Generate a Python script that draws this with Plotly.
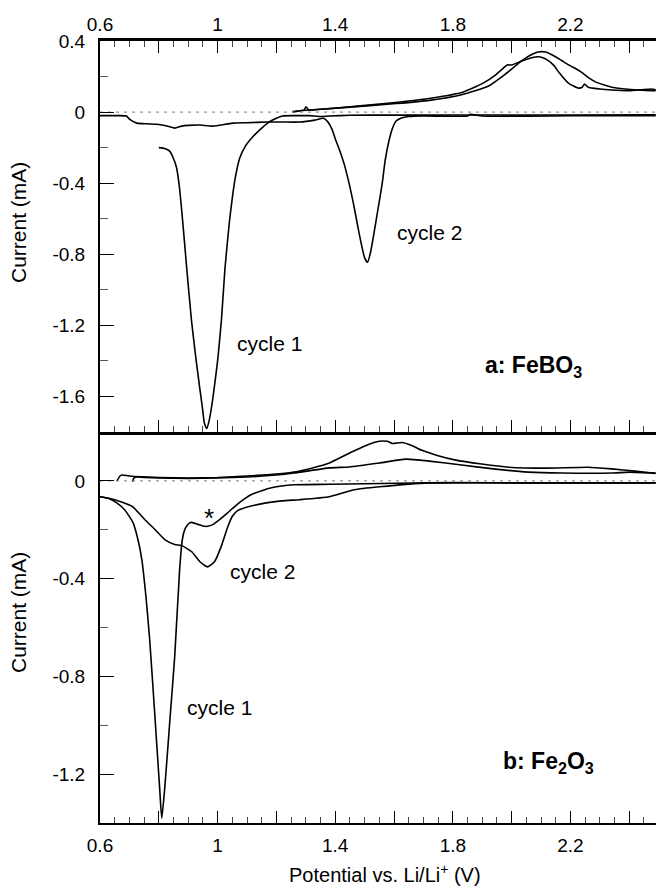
import plotly.graph_objects as go

# ---------------- data ----------------
# Panel a: FeBO3
feb_c1_dis_v = [2.49, 2.2, 1.9, 1.7, 1.58, 1.45, 1.38, 1.35, 1.31, 1.26, 1.22, 1.2, 1.176, 1.15, 1.119,
                1.095, 1.075, 1.06, 1.051, 1.04, 1.025, 1.013, 1.0, 0.983, 0.972, 0.963, 0.955, 0.948,
                0.939, 0.925, 0.911, 0.895, 0.881, 0.87, 0.86, 0.847, 0.837, 0.82, 0.80]
feb_c1_dis_i = [-0.015, -0.016, -0.016, -0.017, -0.017, -0.018, -0.022, -0.025, -0.02, -0.02, -0.022,
                -0.035, -0.055, -0.09, -0.14, -0.19, -0.26, -0.37, -0.47, -0.62, -0.88, -1.17, -1.40,
                -1.62, -1.73, -1.78, -1.75, -1.66, -1.55, -1.37, -1.17, -0.88, -0.61, -0.42, -0.31,
                -0.25, -0.22, -0.205, -0.20]

feb_c2_dis_v = [2.49, 2.2, 1.9, 1.86, 1.85, 1.7, 1.65, 1.625, 1.607, 1.595, 1.583, 1.57, 1.56, 1.545,
                1.532, 1.52, 1.51, 1.5, 1.481, 1.465, 1.447, 1.43, 1.414, 1.40, 1.39, 1.375, 1.36, 1.33,
                1.28, 1.22, 1.166, 1.1, 1.051, 0.983, 0.939, 0.9, 0.878, 0.854, 0.82, 0.793, 0.76,
                0.725, 0.70, 0.69, 0.65, 0.60]
feb_c2_dis_i = [-0.02, -0.021, -0.022, -0.013, -0.022, -0.022, -0.025, -0.033, -0.05, -0.09, -0.16,
                -0.27, -0.40, -0.55, -0.68, -0.79, -0.845, -0.82, -0.68, -0.54, -0.40, -0.29, -0.21,
                -0.15, -0.10, -0.055, -0.035, -0.045, -0.056, -0.056, -0.056, -0.06, -0.062, -0.079,
                -0.073, -0.075, -0.079, -0.09, -0.075, -0.068, -0.066, -0.062, -0.04, -0.022, -0.02,
                -0.02]

feb_c1_ch_v = [1.255, 1.28, 1.295, 1.30, 1.31, 1.35, 1.45, 1.607, 1.72, 1.83, 1.92, 1.98, 2.035, 2.07,
               2.09, 2.115, 2.14, 2.17, 2.2, 2.217, 2.237, 2.26, 2.285, 2.31, 2.34, 2.386, 2.43, 2.475,
               2.49]
feb_c1_ch_i = [0.0, 0.008, 0.012, 0.03, 0.012, 0.016, 0.028, 0.048, 0.066, 0.098, 0.145, 0.215, 0.29,
               0.325, 0.338, 0.338, 0.32, 0.29, 0.26, 0.245, 0.225, 0.195, 0.17, 0.155, 0.14, 0.13,
               0.124, 0.12, 0.12]

feb_c2_ch_v = [1.255, 1.3, 1.4, 1.55, 1.7, 1.83, 1.9, 1.946, 1.97, 1.985, 2.0, 2.03, 2.057, 2.08, 2.098,
               2.125, 2.145, 2.16, 2.193, 2.227, 2.24, 2.248, 2.26, 2.3, 2.34, 2.4, 2.44, 2.475, 2.49]
feb_c2_ch_i = [0.003, 0.01, 0.022, 0.045, 0.072, 0.11, 0.16, 0.21, 0.245, 0.265, 0.265, 0.285, 0.30,
               0.31, 0.31, 0.29, 0.26, 0.225, 0.163, 0.135, 0.14, 0.158, 0.14, 0.13, 0.124, 0.12, 0.125,
               0.13, 0.125]

# Panel b: Fe2O3
fe2_c1_dis_v = [0.60, 0.63, 0.657, 0.685, 0.712, 0.729, 0.742, 0.756, 0.769, 0.786, 0.803, 0.81, 0.82,
                0.837, 0.854, 0.871, 0.88, 0.888, 0.895, 0.905, 0.912, 0.933, 0.95, 0.966, 0.985, 1.0,
                1.03, 1.058, 1.09, 1.115, 1.15, 1.183, 1.26, 1.38, 1.5, 1.72, 2.0, 2.49]
fe2_c1_dis_i = [-0.065, -0.072, -0.09, -0.12, -0.17, -0.24, -0.32, -0.47, -0.65, -0.95, -1.26, -1.38,
                -1.26, -0.99, -0.72, -0.36, -0.24, -0.20, -0.185, -0.172, -0.17, -0.178, -0.185,
                -0.186, -0.178, -0.165, -0.135, -0.105, -0.075, -0.056, -0.04, -0.028, -0.016,
                -0.014, -0.012, -0.008, -0.008, -0.008]

fe2_c2_dis_v = [0.60, 0.65, 0.71, 0.752, 0.786, 0.82, 0.854, 0.88, 0.912, 0.939, 0.966, 0.99, 1.013,
                1.034, 1.05, 1.068, 1.125, 1.217, 1.278, 1.38, 1.465, 1.55, 1.72, 2.0, 2.49]
fe2_c2_dis_i = [-0.065, -0.077, -0.105, -0.158, -0.198, -0.24, -0.26, -0.266, -0.29, -0.33, -0.352,
                -0.33, -0.266, -0.19, -0.145, -0.122, -0.10, -0.082, -0.077, -0.065, -0.036, -0.024,
                -0.008, -0.008, -0.008]

fe2_c1_ch_v = [0.658, 0.668, 0.675, 0.70, 0.8, 0.9, 1.0, 1.1, 1.2, 1.26, 1.32, 1.38, 1.447, 1.505, 1.55,
               1.577, 1.594, 1.627, 1.66, 1.695, 1.75, 1.81, 1.898, 1.99, 2.115, 2.26, 2.34, 2.42, 2.49]
fe2_c1_ch_i = [0.0, 0.02, 0.024, 0.02, 0.014, 0.012, 0.014, 0.02, 0.028, 0.036, 0.052, 0.073, 0.113,
               0.145, 0.162, 0.162, 0.153, 0.157, 0.145, 0.125, 0.103, 0.085, 0.069, 0.056, 0.052,
               0.056, 0.049, 0.04, 0.03]

fe2_c2_ch_v = [0.71, 0.716, 0.725, 0.75, 0.8, 0.9, 1.0, 1.1, 1.2, 1.26, 1.38, 1.447, 1.55, 1.64, 1.72,
               1.83, 1.945, 2.057, 2.17, 2.34, 2.4, 2.49]
fe2_c2_ch_i = [-0.003, 0.012, 0.016, 0.014, 0.012, 0.01, 0.012, 0.016, 0.024, 0.032, 0.053, 0.057,
               0.073, 0.089, 0.081, 0.065, 0.048, 0.036, 0.032, 0.032, 0.036, 0.032]

x_range = [0.6, 2.491]
x_tickvals = [0.6, 0.8, 1.0, 1.2, 1.4, 1.6, 1.8, 2.0, 2.2, 2.4]
x_ticktext = ["0.6", " ", "1", " ", "1.4", " ", "1.8", " ", "2.2", " "]
ya_tickvals = [0.4, 0.0, -0.4, -0.8, -1.2, -1.6]
ya_ticktext = ["0.4", "0", "-0.4", "-0.8", "-1.2", "-1.6"]
yb_tickvals = [0.0, -0.4, -0.8, -1.2]
yb_ticktext = ["0", "-0.4", "-0.8", "-1.2"]
zero_v = [0.6, 2.491]
zero_i = [0.0, 0.0]

# ---------------- figure ----------------
FONT = "Liberation Sans, Arial, Helvetica, sans-serif"
line = dict(color="black", width=1.6, shape="spline", smoothing=0.5)

fig = go.Figure()
for v, i in [(feb_c1_dis_v, feb_c1_dis_i), (feb_c2_dis_v, feb_c2_dis_i),
             (feb_c1_ch_v, feb_c1_ch_i), (feb_c2_ch_v, feb_c2_ch_i)]:
    fig.add_trace(go.Scatter(x=v, y=i, mode="lines", line=line, xaxis="x2", yaxis="y2",
                             showlegend=False, hoverinfo="skip"))
for v, i in [(fe2_c1_dis_v, fe2_c1_dis_i), (fe2_c2_dis_v, fe2_c2_dis_i),
             (fe2_c1_ch_v, fe2_c1_ch_i), (fe2_c2_ch_v, fe2_c2_ch_i)]:
    fig.add_trace(go.Scatter(x=v, y=i, mode="lines", line=line, xaxis="x", yaxis="y",
                             showlegend=False, hoverinfo="skip"))
# dotted zero lines
for ax in [("x2", "y2"), ("x", "y")]:
    fig.add_trace(go.Scatter(x=zero_v, y=zero_i, mode="lines",
                             line=dict(color="#777", width=1, dash="3px,5px"),
                             xaxis=ax[0], yaxis=ax[1], showlegend=False, hoverinfo="skip"))

tickfont = dict(family=FONT, size=19, color="black")
minor_x = dict(tickmode="linear", tick0=0.6, dtick=0.05, ticklen=6, tickcolor="#444", tickwidth=1,
               ticks="inside")
common_x = dict(range=x_range, tickmode="array", tickvals=x_tickvals, ticktext=x_ticktext,
                ticks="inside", ticklen=12, tickwidth=1, tickcolor="black", showgrid=False,
                zeroline=False, showline=True, linecolor="black", tickfont=tickfont, minor=minor_x)

fig.update_layout(
    width=656, height=888,
    margin=dict(l=100, r=0, t=41, b=65),
    paper_bgcolor="white", plot_bgcolor="white",
    xaxis=dict(common_x, domain=[0, 1], anchor="y", linewidth=2, side="bottom",
               ticklabelstandoff=4),
    xaxis2=dict(common_x, domain=[0, 1], anchor="y2", side="top", mirror="ticks", linewidth=2.5,
                ticklabelstandoff=0, matches="x"),
    yaxis=dict(domain=[0, 0.5], range=[-1.4, 0.2], tickmode="array", tickvals=yb_tickvals,
               ticktext=yb_ticktext, ticks="inside", ticklen=14, tickwidth=1, tickcolor="black",
               minor=dict(tickmode="linear", tick0=0, dtick=0.2, ticklen=8, tickcolor="#555",
                          ticks="inside"),
               showline=True, linecolor="black", linewidth=2, showgrid=False, zeroline=False,
               tickfont=tickfont, ticklabelstandoff=9, anchor="x"),
    yaxis2=dict(domain=[0.5, 1], range=[-1.8, 0.4], tickmode="array", tickvals=ya_tickvals,
                ticktext=ya_ticktext, ticks="inside", ticklen=14, tickwidth=1, tickcolor="black",
                minor=dict(tickmode="linear", tick0=0, dtick=0.2, ticklen=8, tickcolor="#555",
                           ticks="inside"),
                showline=True, linecolor="black", linewidth=2, showgrid=False, zeroline=False,
                tickfont=tickfont, ticklabelstandoff=9, anchor="x2"),
)

txt = dict(family=FONT, size=21, color="black")
bold = dict(family=FONT, size=23, color="black", weight="bold")
ann = [
    dict(text="cycle 1", x=1.176, y=-1.30, xref="x2", yref="y2", font=txt),
    dict(text="cycle 2", x=1.722, y=-0.676, xref="x2", yref="y2", font=txt),
    dict(text="<b>a: FeBO<sub>3</sub></b>", x=2.073, y=-1.43, xref="x2", yref="y2", font=bold),
    dict(text="cycle 2", x=1.154, y=-0.372, xref="x", yref="y", font=txt),
    dict(text="cycle 1", x=1.005, y=-0.929, xref="x", yref="y", font=txt),
    dict(text="*", x=0.97, y=-0.15, xref="x", yref="y", font=dict(family=FONT, size=26,
                                                                   color="black")),
    dict(text="<b>b: Fe<sub>2</sub>O<sub>3</sub></b>", x=2.124, y=-1.154, xref="x", yref="y",
         font=bold),
    dict(text="Current (mA)", x=(18 - 100) / 556, y=(823 - 223) / 782, xref="paper", yref="paper",
         textangle=-90, font=dict(family=FONT, size=21, color="black")),
    dict(text="Current (mA)", x=(18 - 100) / 556, y=(823 - 613) / 782, xref="paper", yref="paper",
         textangle=-90, font=dict(family=FONT, size=21, color="black")),
    dict(text="Potential vs. Li/Li<sup>+</sup> (V)", x=(385 - 100) / 556, y=(823 - 873) / 782,
         xref="paper", yref="paper", font=dict(family=FONT, size=20, color="black")),
]
for a in ann:
    a.update(showarrow=False, xanchor="center", yanchor="middle")
fig.update_layout(annotations=ann)

fig.write_html("out.html")
